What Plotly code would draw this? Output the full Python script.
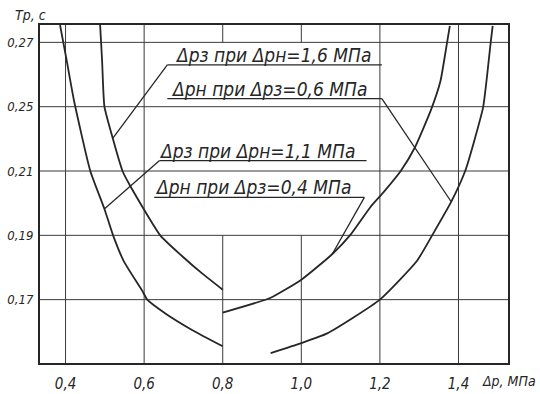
import plotly.graph_objects as go

# ---- data (y in the chart's uniform grid units) ----
x_tick_vals = [0.4, 0.6, 0.8, 1.0, 1.2, 1.4]
x_tick_text = ["0,4", "0,6", "0,8", "1,0", "1,2", "1,4"]
y_tick_vals = [0.17, 0.19, 0.21, 0.23, 0.25]
y_tick_text = ["0,17", "0,19", "0,21", "0,25", "0,27"]

# Δрз при Δрн=1,6 МПа
curve_a_x = [0.488, 0.493, 0.499, 0.518, 0.545, 0.564, 0.641, 0.697, 0.749, 0.800]
curve_a_y = [0.2554, 0.2443, 0.2300, 0.2211, 0.2100, 0.2055, 0.1900, 0.1835, 0.1780, 0.1731]
# Δрз при Δрн=1,1 МПа
curve_b_x = [0.386, 0.403, 0.422, 0.463, 0.499, 0.521, 0.548, 0.595, 0.608, 0.654, 0.723, 0.800]
curve_b_y = [0.2554, 0.2443, 0.2316, 0.2100, 0.1982, 0.1900, 0.1820, 0.1728, 0.1700, 0.1657, 0.1605, 0.1555]
# Δрн при Δрз=0,4 МПа
curve_c_x = [0.800, 0.922, 1.000, 1.079, 1.126, 1.176, 1.210, 1.253, 1.289, 1.330, 1.354, 1.371, 1.378]
curve_c_y = [0.1660, 0.1706, 0.1762, 0.1842, 0.1903, 0.1988, 0.2035, 0.2100, 0.2173, 0.2290, 0.2379, 0.2500, 0.2551]
# Δрн при Δрз=0,6 МПа
curve_d_x = [0.922, 1.000, 1.066, 1.200, 1.294, 1.333, 1.381, 1.417, 1.439, 1.463, 1.482, 1.487]
curve_d_y = [0.1534, 0.1565, 0.1595, 0.1700, 0.1820, 0.1900, 0.2003, 0.2100, 0.2189, 0.2300, 0.2500, 0.2551]

labels = ["Δрз при Δрн=1,6 МПа", "Δрн при Δрз=0,6 МПа",
          "Δрз при Δрн=1,1 МПа", "Δрн при Δрз=0,4 МПа"]
# underline (x0, x1, y) and leader end point on curve (x, y)
label_lines = [(0.659, 1.205, 0.2430), (0.659, 1.205, 0.2325),
               (0.6385, 1.166, 0.2132), (0.6256, 1.1605, 0.2018)]
leader_start_left = [True, False, True, False]
leader_ends = [(0.5205, 0.2202), (1.3807, 0.2006), (0.4986, 0.1982), (1.0789, 0.1842)]
label_centers = [0.927, 0.917, 0.888, 0.878]

X_RANGE = [0.335, 1.526]
Y_RANGE = [0.1503, 0.2554]

INK = "#262626"
GRID = "#3a3a3a"
FONT = "DejaVu Sans Condensed, Liberation Sans Narrow, DejaVu Sans"

fig = go.Figure()
for cx, cy in [(curve_a_x, curve_a_y), (curve_b_x, curve_b_y),
               (curve_c_x, curve_c_y), (curve_d_x, curve_d_y)]:
    fig.add_trace(go.Scatter(x=cx, y=cy, mode="lines",
                             line=dict(color=INK, width=1.8, shape="spline", smoothing=0.5),
                             showlegend=False, hoverinfo="skip", cliponaxis=True))

shapes = []
# horizontal grid lines
for yv in y_tick_vals:
    shapes.append(dict(type="line", xref="x", yref="y", x0=X_RANGE[0], x1=X_RANGE[1],
                       y0=yv, y1=yv, line=dict(color=GRID, width=1), layer="below"))
# vertical grid lines (0,8 and 1,0 interrupted by the label area)
for xv in x_tick_vals:
    if xv in (0.8, 1.0):
        segs = [(Y_RANGE[0], 0.19), (0.25, Y_RANGE[1])]
    else:
        segs = [(Y_RANGE[0], Y_RANGE[1])]
    for y0, y1 in segs:
        shapes.append(dict(type="line", xref="x", yref="y", x0=xv, x1=xv,
                           y0=y0, y1=y1, line=dict(color=GRID, width=1), layer="below"))

annotations = []
for txt, (x0, x1, yl), left, (ex, ey), cxl in zip(labels, label_lines, leader_start_left,
                                                   leader_ends, label_centers):
    shapes.append(dict(type="line", xref="x", yref="y", x0=x0, x1=x1, y0=yl, y1=yl,
                       line=dict(color=INK, width=1.3)))
    sx = x0 if left else x1
    shapes.append(dict(type="line", xref="x", yref="y", x0=sx, x1=ex, y0=yl, y1=ey,
                       line=dict(color=INK, width=1.3)))
    annotations.append(dict(x=cxl, y=yl, xref="x", yref="y", text=txt, showarrow=False,
                            xanchor="center", yanchor="bottom", yshift=-3,
                            font=dict(family=FONT, size=19, color=INK, style="italic")))

annotations.append(dict(x=-0.058, y=1.0, xref="paper", yref="paper", text="Тр, с",
                        showarrow=False, xanchor="left", yanchor="bottom", yshift=0,
                        font=dict(family=FONT, size=14, color=INK, style="italic")))
annotations.append(dict(x=1.064, y=0.0, xref="paper", yref="paper", text="Δр, МПа",
                        showarrow=False, xanchor="right", yanchor="top", yshift=-8,
                        font=dict(family=FONT, size=14, color=INK, style="italic")))

fig.update_layout(
    width=540, height=394,
    margin=dict(l=40, r=32, t=25, b=31, autoexpand=False),
    paper_bgcolor="white", plot_bgcolor="white",
    shapes=shapes, annotations=annotations,
    font=dict(family=FONT, size=14, color=INK, style="italic"),
    showlegend=False,
)
fig.update_xaxes(range=X_RANGE, showgrid=False, zeroline=False, showline=True, mirror=True,
                 linecolor=INK, linewidth=2, tickvals=x_tick_vals, ticktext=x_tick_text,
                 ticks="", ticklabelstandoff=6, automargin=False,
                 tickfont=dict(family=FONT, size=15, color=INK, style="italic"))
fig.update_yaxes(range=Y_RANGE, showgrid=False, zeroline=False, showline=True, mirror=True,
                 linecolor=INK, linewidth=2, tickvals=y_tick_vals, ticktext=y_tick_text,
                 ticks="", ticklabelstandoff=2, automargin=False,
                 tickfont=dict(family=FONT, size=13, color=INK, style="italic"))

fig.write_html("out.html", config={"displayModeBar": False},
               post_script="document.body.style.margin='0';document.body.style.overflow='hidden';")
